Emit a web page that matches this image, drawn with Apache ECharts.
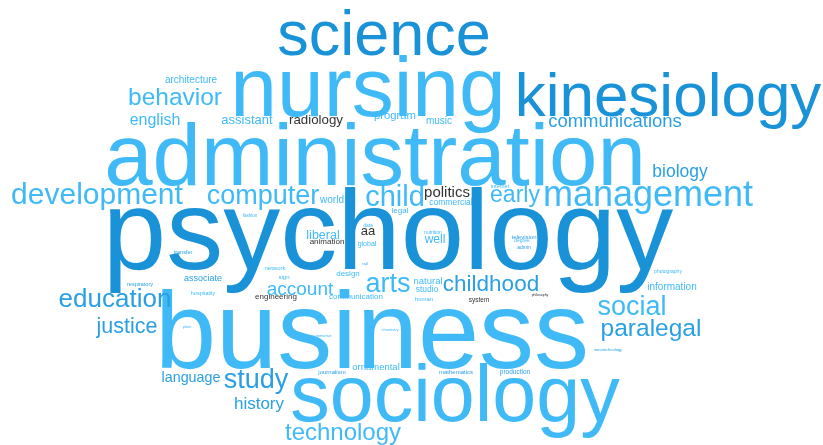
<!DOCTYPE html>
<html>
<head>
<meta charset="utf-8">
<title>Word cloud</title>
<script src="https://cdn.jsdelivr.net/npm/echarts@6/dist/echarts.min.js"></script>
<style>
  html, body { margin: 0; padding: 0; background: #fff; }
  #chart { width: 823px; height: 445px; }
</style>
</head>
<body>
<div id="chart"></div>
<script>
// words, their font size, colour index and placement (pixels in the 823x445 canvas)
var words = ['psychology', 'business', 'administration', 'nursing', 'science', 'kinesiology', 'sociology',
  'management', 'development', 'computer', 'child', 'early', 'behavior', 'communications', 'biology',
  'education', 'justice', 'account', 'arts', 'childhood', 'social', 'paralegal', 'study', 'history',
  'technology', 'language', 'english', 'assistant', 'radiology', 'politics', 'program', 'music',
  'architecture', 'information', 'liberal', 'aa', 'well', 'world', 'commercial', 'natural', 'studio',
  'associate', 'ornamental', 'communication', 'design', 'engineering', 'animation', 'legal', 'global',
  'network', 'sign', 'human', 'system', 'mathematics', 'production', 'journalism', 'television',
  'hospitality', 'respiratory', 'transfer', 'photography', 'internet', 'nutrition', 'degree', 'admin',
  'data', 'fashion', 'philosophy', 'plant', 'rail', 'nanotechnology', 'automotive', 'chemistry'];
var sizes = [114, 110, 87, 84, 63, 62, 79,
  36, 30, 27, 29, 23, 24.5, 18.5, 17.5,
  26, 21.5, 19, 27, 22.5, 27, 24.5, 27, 17,
  24, 14.3, 16, 13, 13.3, 15, 11.3, 10,
  10, 10, 12.5, 13, 12, 10, 8.5, 9.5, 8.5,
  9, 9.5, 8, 8, 8, 8, 8, 7,
  6, 6, 6, 6.5, 6, 6.5, 6, 6,
  5.5, 5.5, 5.5, 5, 5.5, 5, 5, 5,
  5, 4.5, 3.5, 4, 4, 4, 4, 4];
var tones = [2, 0, 0, 0, 2, 2, 0,
  0, 0, 0, 0, 0, 0, 1, 1,
  1, 1, 0, 0, 1, 0, 1, 1, 1,
  0, 1, 0, 0, 3, 3, 0, 0,
  0, 0, 0, 3, 0, 0, 0, 0, 0,
  1, 0, 0, 0, 3, 3, 0, 0,
  0, 0, 0, 3, 1, 1, 1, 1,
  0, 1, 1, 0, 0, 0, 0, 1,
  0, 0, 3, 0, 1, 1, 0, 0];
var xs = [388, 372, 375, 368, 384, 668, 455,
  648, 97, 263, 395, 515, 175, 615, 680,
  115, 127, 300, 388, 491, 632, 651, 256, 259,
  343, 191, 155, 247, 316, 447, 395, 439,
  191, 672, 323, 368, 435, 332, 451, 428, 427,
  203, 376, 356, 348, 276, 327, 400, 367,
  275, 284, 424, 479, 456, 515, 332, 524,
  203, 140, 183, 668, 500, 433, 522, 524,
  368, 250, 540, 187, 365, 608, 322, 390];
var ys = [238, 338, 161, 93, 38, 99, 399,
  196, 196, 197, 198, 196, 98, 122, 172,
  300, 327, 290, 285, 285, 308, 329, 381, 404,
  433, 378, 121, 120, 120, 193, 116, 121,
  80, 287, 236, 231, 240, 200, 203, 281, 290,
  279, 367, 297, 274, 297, 242, 211, 244,
  268, 277, 299, 300, 372, 372, 372, 237,
  293, 284, 252, 272, 186, 233, 241, 248,
  226, 216, 295, 327, 264, 350, 336, 330];
var palette = ['#3fbaf7', '#2aa0e3', '#1992d8', '#333333'];

var chart = echarts.init(document.getElementById('chart'));

var points = words.map(function (w, i) {
  return {
    name: w,
    value: [xs[i], ys[i]],
    label: { fontSize: sizes[i], color: palette[tones[i]] }
  };
});

chart.setOption({
  animation: false,
  grid: { left: 0, right: 0, top: 0, bottom: 0 },
  xAxis: { type: 'value', min: 0, max: 823, show: false },
  yAxis: { type: 'value', min: 0, max: 445, inverse: true, show: false },
  series: [{
    type: 'scatter',
    symbolSize: 0,
    itemStyle: { opacity: 1 },
    data: points,
    label: {
      show: true,
      position: 'inside',
      align: 'center',
      verticalAlign: 'middle',
      opacity: 1,
      textBorderWidth: 0,
      textShadowBlur: 0,
      fontFamily: 'Liberation Sans, Arial, sans-serif',
      formatter: '{b}'
    },
    emphasis: { disabled: true },
    labelLayout: { hideOverlap: false }
  }]
});
</script>
</body>
</html>
